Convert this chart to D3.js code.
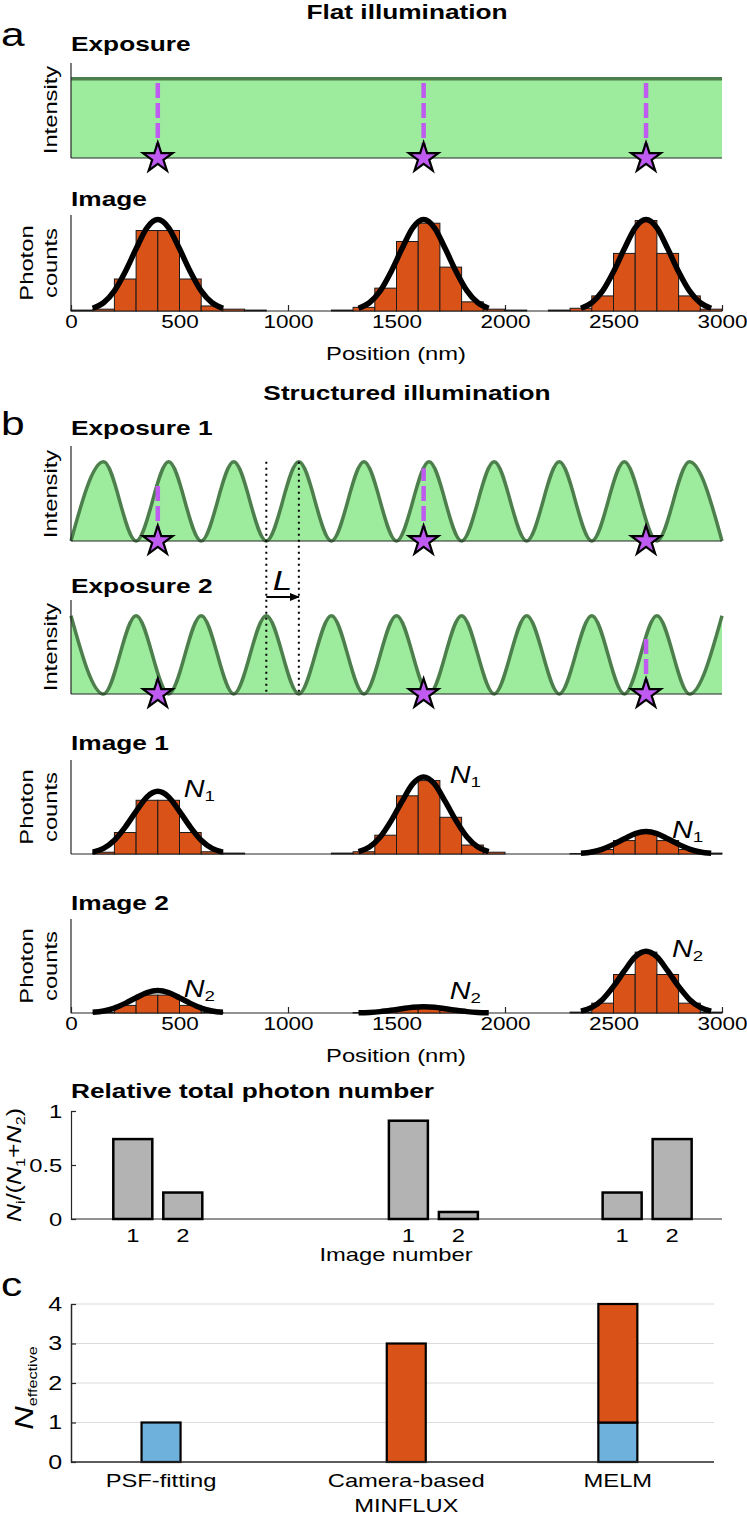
<!DOCTYPE html>
<html>
<head>
<meta charset="utf-8">
<script src="https://cdn.jsdelivr.net/npm/d3@7"></script>
<style>
    body { margin: 0; background: #fff; }
    svg { display: block; }
</style>
</head>
<body>
<svg id="chart" width="747" height="1516"></svg>
<script>
// ---- data ----
const positionTicks = [0, 500, 1000, 1500, 2000, 2500, 3000]
const emitterPos = [400, 1625, 2650]
const binStarts = [0, 100, 200, 300, 400, 500, 600, 700, 800, 900, 1000, 1100, 1200, 1300, 1400,
    1500, 1600, 1700, 1800, 1900, 2000, 2100, 2200, 2300, 2400, 2500, 2600, 2700, 2800, 2900]

// PSF fit profile (relative to peak), sampled around each emitter
const profileOffset = [-300, -250, -200, -150, -100, -50, 0, 50, 100, 150, 200, 250, 300]
const profileShape = [0.03, 0.09, 0.22, 0.43, 0.68, 0.91, 1, 0.91, 0.68, 0.43, 0.22, 0.09, 0.03]

const flatCounts = [0.01, 0.02, 0.35, 0.88, 0.88, 0.35, 0.055, 0.02, 0.01, 0, 0, 0, 0.01, 0.04, 0.25,
    0.76, 0.96, 0.48, 0.10, 0.02, 0.01, 0, 0.01, 0.03, 0.165, 0.63, 0.99, 0.63, 0.165, 0.02]
const flatPeaks = [1, 1, 1]

const image1Counts = [0, 0.02, 0.24, 0.60, 0.60, 0.24, 0.025, 0.01, 0, 0, 0, 0, 0.01, 0.025, 0.21,
    0.65, 0.82, 0.41, 0.10, 0.02, 0, 0, 0, 0.005, 0.05, 0.15, 0.23, 0.15, 0.05, 0.01]
const image1Peaks = [0.70, 0.86, 0.25]

const image2Counts = [0, 0.005, 0.085, 0.20, 0.20, 0.085, 0.01, 0, 0, 0, 0, 0, 0, 0.005, 0.02,
    0.05, 0.06, 0.03, 0.01, 0, 0, 0, 0, 0.01, 0.11, 0.43, 0.68, 0.43, 0.11, 0.01]
const image2Peaks = [0.25, 0.07, 0.69]

const flatLevel = 1
const exposure1Peaks = [150, 450, 750, 1050, 1350, 1650, 1950, 2250, 2550, 2850]
const exposure1Troughs = [0, 300, 600, 900, 1200, 1500, 1800, 2100, 2400, 2700, 3000]
const exposure2Peaks = [0, 300, 600, 900, 1200, 1500, 1800, 2100, 2400, 2700, 3000]
const exposure2Troughs = [150, 450, 750, 1050, 1350, 1650, 1950, 2250, 2550, 2850]
const exposure1AtEmitter = [0.74, 0.92, 0.25]
const exposure2AtEmitter = [0.25, 0.07, 0.75]
const shiftMarks = [900, 1050]

const imageNumbers = ['1', '2']
const relGroupCenters = [400, 1670, 2655]
const relImage1 = [0.74, 0.91, 0.245]
const relImage2 = [0.245, 0.065, 0.74]
const relTicks = [0, 0.5, 1]

const methodLabels = [['PSF-fitting'], ['Camera-based', 'MINFLUX'], ['MELM']]
const methodPos = [415, 1545, 2520]
const nFitting = [1, 0, 1]
const nMinflux = [0, 3, 3]
const nTicks = [0, 1, 2, 3, 4]

// ---- styling ----
const SX = 1.25
const FONT = '"Liberation Sans", Arial, Helvetica, sans-serif'
const ORANGE = '#D95319'
const BLUE = '#6FB1DD'
const GRAY_BAR = '#B3B3B3'
const GREEN_FILL = '#9DEC9D'
const GREEN_LINE = '#4C7F4C'
const MAGENTA = '#BF5BF0'
const AXIS = '#262626'
const TICK_SIZE = 18

const svg = d3.select('#chart')
const x = d3.scaleLinear().domain([0, 3000]).range([71, 722])
const [xLeft, xRight] = x.range()

function label(g, px, py, parts, opts = {}) {
    const { size = 19, weight = 'normal', anchor = 'start', rotate = 0, style = 'normal' } = opts
    const t = g.append('text')
        .attr('transform', `translate(${px},${py}) rotate(${rotate}) scale(${SX},1)`)
        .attr('text-anchor', anchor)
        .attr('font-family', FONT)
        .attr('font-size', size)
        .attr('font-weight', weight)
        .attr('font-style', style)
        .attr('fill', '#000')
    if (typeof parts === 'string') {
        t.text(parts)
        return t
    }
    for (const p of parts) {
        t.append('tspan')
            .text(p.text)
            .attr('font-style', p.italic ? 'italic' : 'normal')
            .attr('font-size', p.size || size)
            .attr('dy', p.dy || 0)
    }
    return t
}

function frame(g, top, bottom, right = xRight) {
    g.append('line')
        .attr('x1', xLeft).attr('x2', xLeft)
        .attr('y1', top).attr('y2', bottom)
        .attr('stroke', AXIS).attr('stroke-width', 1.2)
    g.append('line')
        .attr('x1', xLeft).attr('x2', right)
        .attr('y1', bottom).attr('y2', bottom)
        .attr('stroke', AXIS).attr('stroke-width', 1.2)
}

function positionAxis(g, bottom) {
    const a = g.append('g')
        .attr('transform', `translate(0,${bottom})`)
        .call(d3.axisBottom(x)
            .tickValues(positionTicks)
            .tickSize(-6)
            .tickSizeOuter(0)
            .tickPadding(4)
            .tickFormat(d3.format('d')))
    a.select('.domain').remove()
    a.selectAll('line').attr('stroke', AXIS).attr('stroke-width', 1.2)
    a.selectAll('text')
        .attr('font-size', TICK_SIZE)
        .attr('font-family', FONT)
        .attr('fill', '#000')
        .attr('transform', `scale(${SX},1)`)
}

const star = d3.symbol(d3.symbolStar, 270)

function drawExposure(top, bottom, points, atEmitter) {
    const g = svg.append('g')
    const y = d3.scaleLinear().domain([0, 1.2]).range([bottom, top])

    const area = d3.area()
        .x(d => x(d[0]))
        .y0(bottom)
        .y1(d => y(d[1]))
        .curve(d3.curveMonotoneX)
    const line = d3.line()
        .x(d => x(d[0]))
        .y(d => y(d[1]))
        .curve(d3.curveMonotoneX)

    g.append('path').datum(points).attr('d', area).attr('fill', GREEN_FILL)
    g.append('path').datum(points).attr('d', line)
        .attr('fill', 'none').attr('stroke', GREEN_LINE).attr('stroke-width', 3.5)

    frame(g, top, bottom)

    g.selectAll('.beam')
        .data(emitterPos)
        .join('line')
        .attr('x1', d => x(d)).attr('x2', d => x(d))
        .attr('y1', bottom)
        .attr('y2', (d, i) => y(atEmitter[i]))
        .attr('stroke', MAGENTA)
        .attr('stroke-width', 4.5)
        .attr('stroke-dasharray', '15,5')

    g.selectAll('.star')
        .data(emitterPos)
        .join('path')
        .attr('transform', d => `translate(${x(d)},${bottom})`)
        .attr('d', star)
        .attr('fill', MAGENTA)
        .attr('stroke', '#000')
        .attr('stroke-width', 2.2)
    return y
}

function wavePoints(peaks, troughs) {
    return peaks.map(p => [p, 1]).concat(troughs.map(t => [t, 0])).sort((a, b) => a[0] - b[0])
}

function drawImage(top, bottom, counts, peaks, opts) {
    const g = svg.append('g')
    const y = d3.scaleLinear().domain([0, 1.05]).range([bottom, top])

    frame(g, top, bottom)
    if (opts.ticks) positionAxis(g, bottom)

    g.selectAll('.bin')
        .data(binStarts)
        .join('rect')
        .attr('x', d => x(d))
        .attr('width', d => x(d + 100) - x(d))
        .attr('y', (d, i) => y(counts[i]))
        .attr('height', (d, i) => bottom - y(counts[i]))
        .attr('fill', ORANGE)
        .attr('stroke', '#1a1a1a')
        .attr('stroke-width', 1)

    const fit = d3.line()
        .x(d => x(d[0]))
        .y(d => y(d[1]))
        .curve(d3.curveMonotoneX)

    emitterPos.forEach((c, i) => {
        const pts = profileOffset.map((o, j) => [c + o, peaks[i] * profileShape[j]])
        g.append('path').datum(pts).attr('d', fit)
            .attr('fill', 'none').attr('stroke', '#000').attr('stroke-width', 5.5)
    })

    if (opts.sub) {
        emitterPos.forEach((c, i) => {
            const ly = Math.min(y(peaks[i]) + 6, bottom - 14)
            label(g, x(c) + 26, ly, [
                { text: 'N', italic: true, size: 23 },
                { text: opts.sub, size: 15, dy: 4 },
            ])
        })
    }
    return y
}

// ---- panel a ----
label(svg, 407, 19, 'Flat illumination', { size: 21, weight: 'bold', anchor: 'middle' })
label(svg, 1, 46, 'a', { size: 34 })

label(svg, 71, 51, 'Exposure', { size: 21, weight: 'bold' })
drawExposure(63, 158, [[0, flatLevel], [3000, flatLevel]], [flatLevel, flatLevel, flatLevel])
label(svg, 57, 110, 'Intensity', { rotate: -90, anchor: 'middle' })

label(svg, 71, 206, 'Image', { size: 21, weight: 'bold' })
drawImage(215, 311, flatCounts, flatPeaks, { ticks: true })
label(svg, 33, 263, 'Photon', { rotate: -90, anchor: 'middle' })
label(svg, 57, 263, 'counts', { rotate: -90, anchor: 'middle' })
label(svg, 396, 360, 'Position (nm)', { anchor: 'middle' })

// ---- panel b ----
label(svg, 407, 400, 'Structured illumination', { size: 21, weight: 'bold', anchor: 'middle' })
label(svg, 1, 435, 'b', { size: 34 })

label(svg, 71, 435, 'Exposure 1', { size: 21, weight: 'bold' })
const yExp1 = drawExposure(446, 541, wavePoints(exposure1Peaks, exposure1Troughs), exposure1AtEmitter)
label(svg, 57, 494, 'Intensity', { rotate: -90, anchor: 'middle' })

label(svg, 71, 593, 'Exposure 2', { size: 21, weight: 'bold' })
drawExposure(600, 694, wavePoints(exposure2Peaks, exposure2Troughs), exposure2AtEmitter)
label(svg, 57, 647, 'Intensity', { rotate: -90, anchor: 'middle' })

// shift marker between the two patterns
svg.append('defs').append('marker')
    .attr('id', 'arrow')
    .attr('viewBox', '0 0 10 10')
    .attr('refX', 9).attr('refY', 5)
    .attr('markerWidth', 5).attr('markerHeight', 5)
    .attr('orient', 'auto')
    .append('path').attr('d', 'M0,1L10,5L0,9Z').attr('fill', '#000')

svg.selectAll('.shift')
    .data(shiftMarks)
    .join('line')
    .attr('x1', d => x(d)).attr('x2', d => x(d))
    .attr('y1', yExp1(1)).attr('y2', 694)
    .attr('stroke', '#000')
    .attr('stroke-width', 2)
    .attr('stroke-dasharray', '2,4')

svg.append('line')
    .attr('x1', x(shiftMarks[0])).attr('x2', x(shiftMarks[1]))
    .attr('y1', 597).attr('y2', 597)
    .attr('stroke', '#000').attr('stroke-width', 2)
    .attr('marker-end', 'url(#arrow)')
label(svg, x(d3.mean(shiftMarks)), 590, 'L', { size: 28, style: 'italic', anchor: 'middle' })

label(svg, 71, 750, 'Image 1', { size: 21, weight: 'bold' })
drawImage(760, 854, image1Counts, image1Peaks, { ticks: false, sub: '1' })
label(svg, 33, 807, 'Photon', { rotate: -90, anchor: 'middle' })
label(svg, 57, 807, 'counts', { rotate: -90, anchor: 'middle' })

label(svg, 71, 910, 'Image 2', { size: 21, weight: 'bold' })
drawImage(919, 1013, image2Counts, image2Peaks, { ticks: true, sub: '2' })
label(svg, 33, 966, 'Photon', { rotate: -90, anchor: 'middle' })
label(svg, 57, 966, 'counts', { rotate: -90, anchor: 'middle' })
label(svg, 396, 1062, 'Position (nm)', { anchor: 'middle' })

// relative total photon number
label(svg, 71, 1098, 'Relative total photon number', { size: 21, weight: 'bold' })
const relG = svg.append('g')
const yRel = d3.scaleLinear().domain([0, 1]).range([1219, 1111])
const band = d3.scaleBand().domain(imageNumbers).range([-44.5, 44.5]).paddingInner(0.22)

relG.append('line')
    .attr('x1', xLeft).attr('x2', xRight)
    .attr('y1', yRel(0)).attr('y2', yRel(0))
    .attr('stroke', AXIS).attr('stroke-width', 1.2)
const relAxis = relG.append('g')
    .attr('transform', `translate(${xLeft},0)`)
    .call(d3.axisLeft(yRel).tickValues(relTicks).tickSize(-5).tickSizeOuter(0).tickPadding(7).tickFormat(d3.format('')))
relAxis.select('.domain').attr('stroke', AXIS).attr('stroke-width', 1.2)
relAxis.selectAll('line').attr('stroke', AXIS).attr('stroke-width', 1.2)
relAxis.selectAll('text')
    .attr('font-size', 19).attr('font-family', FONT).attr('fill', '#000')
    .attr('transform', `scale(${SX},1)`)

const relRows = relGroupCenters.flatMap((c, i) => [
    { c, img: '1', v: relImage1[i] },
    { c, img: '2', v: relImage2[i] },
])
relG.selectAll('.rel')
    .data(relRows)
    .join('rect')
    .attr('x', d => x(d.c) + band(d.img))
    .attr('width', band.bandwidth())
    .attr('y', d => yRel(d.v))
    .attr('height', d => yRel(0) - yRel(d.v))
    .attr('fill', GRAY_BAR)
    .attr('stroke', '#000')
    .attr('stroke-width', 2.5)
relRows.forEach(d => {
    label(relG, x(d.c) + band(d.img) + band.bandwidth() / 2, 1242, d.img, { anchor: 'middle' })
})
label(svg, 396, 1261, 'Image number', { anchor: 'middle' })
label(svg, 21, 1165, [
    { text: 'N', italic: true },
    { text: 'i', size: 13, dy: 4 },
    { text: '/(', dy: -4 },
    { text: 'N', italic: true },
    { text: '1', size: 13, dy: 4 },
    { text: '+', dy: -4 },
    { text: 'N', italic: true },
    { text: '2', size: 13, dy: 4 },
    { text: ')', dy: -4 },
], { rotate: -90, anchor: 'middle', size: 20 })

// ---- panel c ----
label(svg, 1, 1296, 'c', { size: 34 })
const cG = svg.append('g')
const yN = d3.scaleLinear().domain([0, 4]).range([1462, 1304])
const cRight = 714

cG.selectAll('.grid')
    .data(nTicks.slice(1))
    .join('line')
    .attr('x1', xLeft).attr('x2', cRight)
    .attr('y1', d => yN(d)).attr('y2', d => yN(d))
    .attr('stroke', '#DCDCDC').attr('stroke-width', 1.2)

const stackRows = methodPos.map((p, i) => ({ p, fitting: nFitting[i], minflux: nMinflux[i] }))
const stacked = d3.stack().keys(['fitting', 'minflux'])(stackRows)
const stackColor = { fitting: BLUE, minflux: ORANGE }

cG.selectAll('.layer')
    .data(stacked)
    .join('g')
    .attr('fill', d => stackColor[d.key])
    .selectAll('rect')
    .data(d => d)
    .join('rect')
    .attr('x', d => x(d.data.p) - 19.5)
    .attr('width', 39)
    .attr('y', d => yN(d[1]))
    .attr('height', d => yN(d[0]) - yN(d[1]))
    .attr('stroke', '#000')
    .attr('stroke-width', 2.2)

cG.append('line')
    .attr('x1', xLeft).attr('x2', cRight)
    .attr('y1', yN(0)).attr('y2', yN(0))
    .attr('stroke', AXIS).attr('stroke-width', 1.5)
const nAxis = cG.append('g')
    .attr('transform', `translate(${xLeft},0)`)
    .call(d3.axisLeft(yN).tickValues(nTicks).tickSize(-5).tickSizeOuter(0).tickPadding(7).tickFormat(d3.format('d')))
nAxis.select('.domain').attr('stroke', AXIS).attr('stroke-width', 1.5)
nAxis.selectAll('line').attr('stroke', AXIS).attr('stroke-width', 1.2)
nAxis.selectAll('text')
    .attr('font-size', 20).attr('font-family', FONT).attr('fill', '#000')
    .attr('transform', `scale(${SX},1)`)

methodLabels.forEach((lines, i) => {
    lines.forEach((s, k) => {
        label(cG, x(methodPos[i]), 1487 + k * 25, s, { anchor: 'middle' })
    })
})
label(svg, 33, 1388, [
    { text: 'N', italic: true, size: 26 },
    { text: 'effective', size: 13, dy: 4 },
], { rotate: -90, anchor: 'middle' })
</script>
</body>
</html>
